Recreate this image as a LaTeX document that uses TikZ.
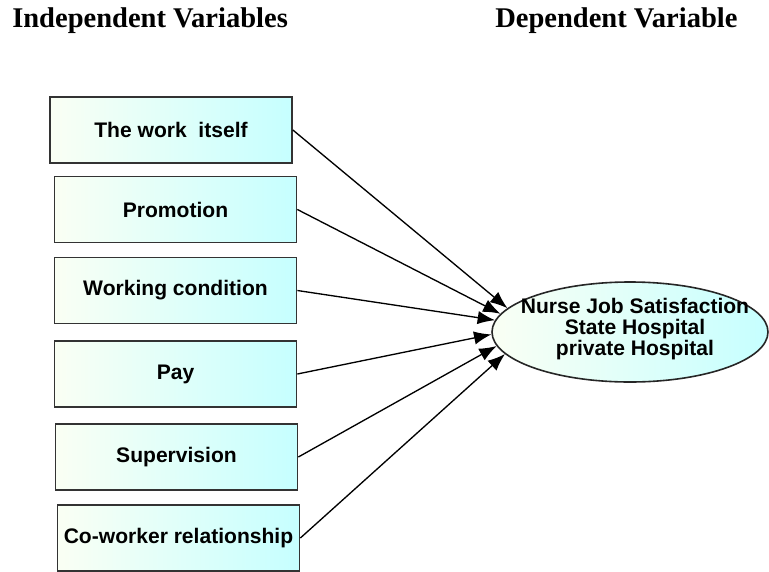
\documentclass[tikz,border=0pt]{standalone}
\usepackage{fontspec}
\setmainfont{Liberation Serif}
\setsansfont{Liberation Sans}
\usetikzlibrary{arrows.meta,shapes.geometric}

\definecolor{paleleft}{RGB}{250,255,244}
\definecolor{palemid}{RGB}{218,255,252}
\definecolor{cyanright}{RGB}{198,255,255}

\begin{document}
\begin{tikzpicture}[x=0.75pt,y=-0.75pt]
			\tikzstyle{headtext}=[anchor=base west,inner sep=0pt,font=\fontsize{21.4}{24}\selectfont\bfseries]
			\tikzstyle{factorbox}=[rectangle,draw=black!80,line width=1.3pt,left color=paleleft,middle color=palemid,right color=cyanright,minimum width=181.5pt,minimum height=49.5pt,inner sep=0pt,font=\sffamily\bfseries\fontsize{15.8}{18}\selectfont]
			\tikzstyle{outcome}=[ellipse,draw=black!85,line width=1.2pt,left color=paleleft,middle color=palemid,right color=cyanright,minimum width=207pt,minimum height=75pt,inner sep=0pt]
			\tikzstyle{link}=[draw,line width=1pt,-{Latex[length=13pt,width=10pt]},black]
			
			\useasboundingbox (0,0) rectangle (769,572);
			
			\node[headtext] (t0) at (12,27) {Independent Variables};
			\node[headtext] (t1) at (495,27) {Dependent Variable};
			
			\node[factorbox] (v0) at (171,130) {The work\ \ itself};
			\node[factorbox] (v1) at (175.5,209.5) {Promotion};
			\node[factorbox] (v2) at (175.5,290.5) {Working condition};
			\node[factorbox] (v3) at (175.5,374) {Pay};
			\node[factorbox] (v4) at (176.5,457) {Supervision};
			\node[factorbox] (v5) at (178.5,538) {Co-worker relationship};
			
			\node[outcome] (dv) at (630,332) {};
			\node[align=center,inner sep=0pt,font=\sffamily\bfseries\fontsize{15.8}{15.8}\selectfont] (dvtext) at (635,329) {Nurse Job Satisfaction\\State Hospital\\private Hospital};
			
			\draw[link] (v0.east) -- (dv.169);
			\draw[link] (v1.east) -- (dv.172);
			\draw[link] (v2.east) -- (dv.175.5);
			\draw[link] (v3.east) -- (dv.181);
			\draw[link] (v4.east) -- (dv.186.5);
			\draw[link] (v5.east) -- (dv.190.5);
		\end{tikzpicture}
\end{document}
